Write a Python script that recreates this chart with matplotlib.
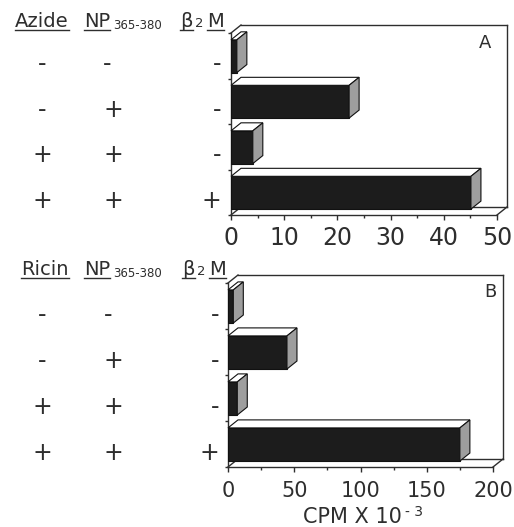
import matplotlib
matplotlib.use("Agg")
import matplotlib.pyplot as plt
import matplotlib.transforms as mtransforms
from matplotlib.patches import Polygon
from matplotlib.lines import Line2D
import numpy as np

# ---------------- data ----------------
row_treat = ["-", "-", "+", "+"]
row_np = ["-", "+", "+", "+"]
row_b2m = ["-", "-", "-", "+"]

treat_A = "Azide"
values_A = [1.1, 22.2, 4.1, 45.1]
ticks_A = [0, 10, 20, 30, 40, 50]
minor_A = [5, 15, 25, 35, 45]

treat_B = "Ricin"
values_B = [4, 44.5, 7, 175]
ticks_B = [0, 50, 100, 150, 200]
minor_B = [25, 75, 125, 175]

np_label = "NP"
np_sub = "365-380"
b2m_b = "\u03b2"
b2m_2 = "2"
b2m_m = "M"
xlabel_main = "CPM X 10"
xlabel_exp = "- 3"

# ---------------- figure ----------------
W, H, DPI = 514, 527, 100
plt.rcParams["font.family"] = ["DejaVu Sans"]
INK = "#2e2e2e"
fig = plt.figure(figsize=(W / DPI, H / DPI), dpi=DPI)

def px_rect(l, t, r, b):
    return [l / W, 1 - b / H, (r - l) / W, (b - t) / H]

pix = mtransforms.Affine2D().scale(1 / W, -1 / H).translate(0, 1) + fig.transFigure

axA = fig.add_axes(px_rect(231, 33, 497, 215))
axB = fig.add_axes(px_rect(228, 283, 493, 467))

DX, DY = 10, 8  # depth offset in pixels


def panel(ax, values, xmax, major, minor, tick_fs, pad):
    n = len(values)
    ax.set_xlim(0, xmax)
    ax.set_ylim(n, 0)
    ax.patch.set_visible(False)
    for s in ["top", "right"]:
        ax.spines[s].set_visible(False)
    for s in ["left", "bottom"]:
        ax.spines[s].set_linewidth(1.0)
        ax.spines[s].set_color(INK)
    ax.set_xticks(major, labels=[f"{t:g}" for t in major])
    ax.set_xticks(minor, minor=True)
    ax.set_yticks(range(n + 1))
    ax.set_yticklabels([])
    ax.tick_params(axis="x", which="major", length=3.6, width=1, colors=INK,
                   labelsize=tick_fs, pad=pad)
    ax.tick_params(axis="x", which="minor", length=2.2, width=1, colors=INK)
    ax.tick_params(axis="y", length=2, width=1, colors=INK)

    p0 = ax.transData.transform((0, 0))
    q = ax.transData.inverted().transform(p0 + np.array([DX, DY]))
    ddx, ddy = q[0], q[1]

    lk = dict(color=INK, lw=1.0, clip_on=False, zorder=1)
    segs = [
        [(0, 0), (ddx, ddy)],
        [(ddx, ddy), (xmax + ddx, ddy)],
        [(xmax + ddx, ddy), (xmax + ddx, n + ddy)],
        [(ddx, n + ddy), (xmax + ddx, n + ddy)],
        [(0, n), (ddx, n + ddy)],
        [(xmax, n), (xmax + ddx, n + ddy)],
    ]
    for sgm in segs:
        ax.add_line(Line2D([sgm[0][0], sgm[1][0]], [sgm[0][1], sgm[1][1]], **lk))

    pos = np.arange(n) + 0.51
    hgt = 0.72
    ax.barh(pos, values, height=hgt, color="#1c1c1c", edgecolor="#111111",
            linewidth=0.8, zorder=3)
    for p, v in zip(pos, values):
        yt, yb = p - hgt / 2, p + hgt / 2
        ax.add_patch(Polygon([(0, yt), (v, yt), (v + ddx, yt + ddy), (ddx, yt + ddy)],
                             closed=True, fc="white", ec="#111111", lw=0.8,
                             zorder=3, clip_on=False))
        ax.add_patch(Polygon([(v, yt), (v + ddx, yt + ddy), (v + ddx, yb + ddy), (v, yb)],
                             closed=True, fc="#9e9e9e", ec="#111111", lw=0.8,
                             zorder=3, clip_on=False))


panel(axA, values_A, 50, ticks_A, minor_A, 17, 4.0)
panel(axB, values_B, 200, ticks_B, minor_B, 15, 6.5)


def row_labels(ax, xs):
    tr = mtransforms.blended_transform_factory(fig.transFigure, ax.transData)
    for i, (a, b, c) in enumerate(zip(row_treat, row_np, row_b2m)):
        y = i + 0.5 + 0.19
        ax.text(xs[0] / W, y, a, transform=tr, ha="center", va="center",
                fontsize=17, color=INK)
        ax.text(xs[1] / W, y, b, transform=tr, ha="left", va="center",
                fontsize=17, color=INK)
        ax.text(xs[2] / W, y, c, transform=tr, ha="right", va="center",
                fontsize=17, color=INK)


row_labels(axA, (42, 103, 221))
row_labels(axB, (42, 104, 219))

headers = []


def header(treat, tx, base, bx, mx):
    t1 = fig.text(tx, base, treat, transform=pix, ha="center", va="baseline",
                  fontsize=14, color=INK)
    t2 = fig.text(84, base, np_label, transform=pix, ha="left", va="baseline",
                  fontsize=14, color=INK)
    t4 = fig.text(bx, base, b2m_b, transform=pix, ha="left", va="baseline",
                  fontsize=14, color=INK)
    t6 = fig.text(mx, base, b2m_m, transform=pix, ha="left", va="baseline",
                  fontsize=14, color=INK)
    headers.append((t1, t2, t4, t6, base))


header(treat_A, 42, 27, 180, 207)
header(treat_B, 45, 275, 182, 209)

fig.text(485, 43, "A", transform=pix, ha="center", va="center", fontsize=13, color=INK)
fig.text(490, 292, "B", transform=pix, ha="center", va="center", fontsize=13, color=INK)

fig.text(402, 523, xlabel_main, transform=pix, ha="right", va="baseline",
         fontsize=15, color=INK)
fig.text(405, 516, xlabel_exp, transform=pix, ha="left", va="baseline",
         fontsize=10, color=INK)

fig.canvas.draw()
r = fig.canvas.get_renderer()
for t1, t2, t4, t6, base in headers:
    bb2 = t2.get_window_extent(r)
    bb4 = t4.get_window_extent(r)
    fig.text(bb2.x1 + 3, base + 2, np_sub, transform=pix, ha="left", va="baseline",
             fontsize=8.5, color=INK)
    fig.text(bb4.x1 + 2, base, b2m_2, transform=pix, ha="left", va="baseline",
             fontsize=9.5, color=INK)
    for t in (t1, t2, t4, t6):
        bb = t.get_window_extent(r)
        y = base + 3
        fig.add_artist(Line2D([bb.x0 / W, bb.x1 / W], [1 - y / H, 1 - y / H],
                              transform=fig.transFigure, color=INK, lw=1.0))

fig.savefig("out.png", dpi=DPI)
